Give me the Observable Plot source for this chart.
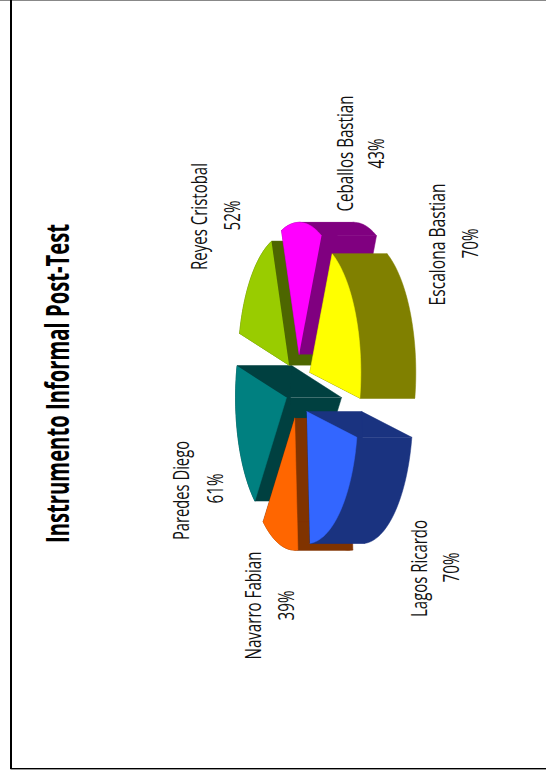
<!DOCTYPE html>
<html>
<head>
<meta charset="utf-8">
<title>Instrumento Informal Post-Test</title>
<style>
  html, body { margin: 0; padding: 0; background: #fff; }
  svg { display: block; }
</style>
<script src="https://cdn.jsdelivr.net/npm/d3@7"></script>
<script src="https://cdn.jsdelivr.net/npm/@observablehq/plot@0.6"></script>
</head>
<body>
<script>
// Pie data, clockwise from the first slice
const names = ["Ceballos Bastian", "Escalona Bastian", "Lagos Ricardo", "Navarro Fabian", "Paredes Diego", "Reyes Cristobal"];
const percents = [43, 70, 70, 39, 61, 52];
const faceColors = ["#ff00ff", "#ffff00", "#3366ff", "#ff6600", "#008080", "#99cc00"];
const wallColors = ["#800080", "#808000", "#1a3380", "#803300", "#004040", "#4d6600"];

// Slices are painted back to front
const paintOrder = [4, 5, 0, 3, 1, 2];

// The sheet is turned a quarter turn, so the pie's "down" runs to the right of the page
const title = "Instrumento Informal Post-Test";
const titlePos = {x: 58, y: 383, length: 319};
const namePos = [[345, 153, 116], [437, 244, 122], [419, 568, 97], [253, 605, 108], [181, 490, 99], [199, 216, 107]];
const percentPos = [[376, 153], [470, 243], [451, 567], [286, 605], [215, 488], [232, 215]];

// 3D pie settings
const center = {x: 298, y: 386.5};
const radiusLong = 132;
const radiusShort = 51;
const depth = 55;
const explode = 32.7;
const startAngle = -20.2 * Math.PI / 180;
const arcStep = Math.PI / 90;

// Angles come straight from the percentages
const arcs = d3.pie().sort(null).startAngle(startAngle).endAngle(startAngle + 2 * Math.PI)(percents);

const polygons = [];
const addPolygon = (id, color, points) => {
  points.forEach(([x, y]) => polygons.push({id, color, x, y}));
};

for (const i of paintOrder) {
  const {startAngle: a0, endAngle: a1} = arcs[i];
  const mid = (a0 + a1) / 2;
  const ox = center.x + (explode * radiusShort / radiusLong) * Math.sin(mid);
  const oy = center.y - explode * Math.cos(mid);
  const apex = [ox, oy];
  const down = ([x, y]) => [x + depth, y];

  // Sampled rim between two angles of the tilted ellipse
  const rimBetween = (t0, t1) => {
    const steps = Math.max(2, Math.round((t1 - t0) / arcStep));
    return d3.range(steps + 1).map((k) => {
      const t = t0 + (t1 - t0) * k / steps;
      return [ox + radiusShort * Math.sin(t), oy - radiusLong * Math.cos(t)];
    });
  };

  const edge = rimBetween(a0, a1);
  const first = edge[0];
  const last = edge[edge.length - 1];

  // The two cut sides of the wedge
  addPolygon(`cut-a-${i}`, wallColors[i], [apex, first, down(first), down(apex)]);
  addPolygon(`cut-b-${i}`, wallColors[i], [apex, last, down(last), down(apex)]);

  // Curved outer side, split where the rim runs parallel to the extrusion so no piece folds over itself
  const folds = d3.range(-2, 5).map((k) => k * Math.PI).filter((t) => t > a0 && t < a1);
  d3.pairs([a0, ...folds, a1]).forEach(([t0, t1], n) => {
    const piece = rimBetween(t0, t1);
    addPolygon(`outer-${i}-${n}`, wallColors[i], [...piece, ...piece.map(down).reverse()]);
  });

  addPolygon(`face-${i}`, faceColors[i], [apex, ...edge]);
}

// Sheet border
const borderLeft = 10.5;
const borderBottom = 768;
const borderTop = 0;

const labels = names.map((name, i) => ({text: name, x: namePos[i][0], y: namePos[i][1], length: namePos[i][2]}));
const percentLabels = percents.map((p, i) => ({text: `${p}%`, x: percentPos[i][0], y: percentPos[i][1], length: 30}));

const chart = Plot.plot({
  width: 546,
  height: 777,
  margin: 0,
  x: {domain: [0, 546], range: [0, 546], axis: null},
  y: {domain: [0, 777], range: [0, 777], axis: null},
  color: {type: "identity"},
  style: {background: "#fff"},
  marks: [
    Plot.ruleY([borderTop], {stroke: "#888", strokeWidth: 1}),
    Plot.ruleX([borderLeft], {y1: 0, y2: borderBottom + 1, stroke: "#000", strokeWidth: 2}),
    Plot.ruleY([borderBottom + 1], {x1: borderLeft, x2: 546, stroke: "#999", strokeWidth: 1}),
    Plot.ruleY([borderBottom], {x1: borderLeft, x2: 546, stroke: "#000", strokeWidth: 1}),
    Plot.line(polygons, {x: "x", y: "y", z: "id", fill: "color", stroke: "color", strokeWidth: 0.5}),
    Plot.text([...labels, ...percentLabels], {
      x: "x", y: "y", text: "text", rotate: -90,
      fontFamily: "'Open Sans', sans-serif", fontSize: 22, fill: "#111",
      textAnchor: "middle", lineAnchor: "middle"
    }),
    Plot.text([{text: title, ...titlePos}], {
      x: "x", y: "y", text: "text", rotate: -90,
      fontFamily: "'Open Sans', sans-serif", fontSize: 32, fontWeight: 700, fill: "#000",
      textAnchor: "middle", lineAnchor: "middle"
    })
  ]
});

// Squeeze the lettering to its narrow set width
const setLengths = new Map([...labels, ...percentLabels, {text: title, length: titlePos.length}].map((d) => [d.text, d.length]));
chart.querySelectorAll("text").forEach((node) => {
  const length = setLengths.get(node.textContent);
  if (length) {
    node.setAttribute("textLength", length);
    node.setAttribute("lengthAdjust", "spacingAndGlyphs");
  }
});

document.body.appendChild(chart);
</script>
</body>
</html>
